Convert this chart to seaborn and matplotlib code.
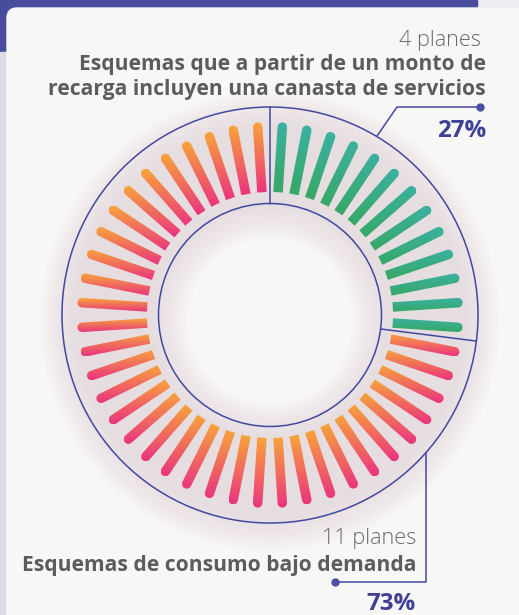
import numpy as np
import matplotlib
matplotlib.use("Agg")
import matplotlib.pyplot as plt
import seaborn as sns
from matplotlib.patches import PathPatch, Wedge, Circle, FancyBboxPatch, Rectangle
from matplotlib.path import Path

# data
categories = ["Esquemas que a partir de un monto de\nrecarga incluyen una canasta de servicios",
              "Esquemas de consumo bajo demanda"]
plans = [4, 11]
shares = [27, 73]
n_ticks = 48

sns.set_theme(style="white")
plt.rcParams['font.family'] = ['Open Sans', 'DejaVu Sans']

W, H = 519, 615
fig = plt.figure(figsize=(W / 100, H / 100), dpi=100)
ax = fig.add_axes([0, 0, 1, 1])

# background: purple band + card
ax.add_patch(Rectangle((0, 0), W, H, color="#ececf1", zorder=0))
ax.add_patch(Rectangle((0, 0), 477, 52, color="#484c9c", zorder=0.1))
ax.add_patch(Rectangle((0, 52), 7, H, color="#dcdce6", zorder=0.1))
ax.add_patch(FancyBboxPatch((7, 8), W + 20, H, boxstyle="round,pad=0,rounding_size=10",
                            color="#f7f7f6", zorder=0.2))

cx, cy = 270, 315
r_out_circle, r_in_circle = 208, 111.5
r_in_bar, r_out_bar, bar_w = 123, 193, 9.5

line_col = "#4248a0"

# soft shadow under the ring
for k in range(18):
    ax.add_patch(Wedge((cx, cy + 6), 196 + k * 2.0, 0, 360, width=80 + k * 4.0,
                       color="#b8a8ad", alpha=0.014, lw=0, zorder=1))

ax.add_patch(Circle((cx, cy), r_out_circle, fill=False, ec=line_col, lw=1.1, zorder=2))
ax.add_patch(Circle((cx, cy), r_in_circle, fill=False, ec=line_col, lw=1.1, zorder=2))

# divider lines between the two groups
for a in [0, shares[0] / 100 * 360]:
    t = np.radians(a)
    u = np.array([np.sin(t), -np.cos(t)])
    p0 = np.array([cx, cy]) + r_in_circle * u
    p1 = np.array([cx, cy]) + r_out_circle * u
    ax.plot([p0[0], p1[0]], [p0[1], p1[1]], color=line_col, lw=1.1, zorder=2)

green_cmap = sns.blend_palette(["#3bb1a2", "#37a865"], as_cmap=True)
pink_cmap = sns.blend_palette(["#f8a53a", "#ea347f"], as_cmap=True)
n_green = int(round(n_ticks * shares[0] / 100))
grad = np.linspace(0, 1, 128).reshape(-1, 1)


def bar_path(theta):
    t = np.radians(theta)
    u = np.array([np.sin(t), -np.cos(t)])
    v = np.array([np.cos(t), np.sin(t)])
    c = np.array([cx, cy])
    r_cap = r_out_bar - bar_w / 2
    pts = [c + r_in_bar * u - bar_w / 2 * v, c + r_cap * u - bar_w / 2 * v]
    for phi in np.linspace(-np.pi / 2, np.pi / 2, 20):
        pts.append(c + (r_cap + bar_w / 2 * np.cos(phi)) * u + bar_w / 2 * np.sin(phi) * v)
    pts.append(c + r_in_bar * u + bar_w / 2 * v)
    pts.append(pts[0])
    return np.array(pts)


for i in range(n_ticks):
    theta = (i + 0.5) * 360 / n_ticks
    pts = bar_path(theta)
    patch = PathPatch(Path(pts), fc="none", ec="none", zorder=3)
    ax.add_patch(patch)
    cmap = green_cmap if i < n_green else pink_cmap
    x0, x1 = pts[:, 0].min(), pts[:, 0].max()
    y0, y1 = pts[:, 1].min(), pts[:, 1].max()
    im = ax.imshow(grad, cmap=cmap, extent=(x0, x1, y1, y0), origin="upper",
                   aspect="auto", interpolation="bilinear", zorder=3)
    im.set_clip_path(patch)

# callouts
dot_col = "#4a4fa0"
ax.plot([377, 397, 480], [136, 107, 107], color=line_col, lw=1.1, zorder=4)
ax.plot([480], [107], "o", color=dot_col, ms=5, zorder=5)
ax.plot([426, 426, 335], [453, 582, 582], color=line_col, lw=1.1, zorder=4)
ax.plot([335], [582], "o", color=dot_col, ms=5, zorder=5)

txt_col = "#5c5c5c"
pct_col = "#3e4096"
ax.text(481, 46, f"{plans[0]} planes", ha="right", va="baseline", fontsize=15.6,
        color="#6a6a6a", fontweight="light", zorder=6)
ax.text(486, 95, categories[0], ha="right", va="baseline", fontsize=15.1,
        color=txt_col, fontweight="bold", linespacing=1.28, zorder=6)
ax.text(486, 137, f"{shares[0]}%", ha="right", va="baseline", fontsize=17.4,
        color=pct_col, fontweight="bold", zorder=6)
ax.text(416, 544, f"{plans[1]} planes", ha="right", va="baseline", fontsize=15.6,
        color="#6a6a6a", fontweight="light", zorder=6)
ax.text(416, 571, categories[1], ha="right", va="baseline", fontsize=15.1,
        color=txt_col, fontweight="bold", zorder=6)
ax.text(416, 610, f"{shares[1]}%", ha="right", va="baseline", fontsize=17.4,
        color=pct_col, fontweight="bold", zorder=6)

ax.set_xlim(0, W)
ax.set_ylim(H, 0)
ax.set_aspect("equal")
ax.axis("off")
plt.savefig("out.png", dpi=100)
